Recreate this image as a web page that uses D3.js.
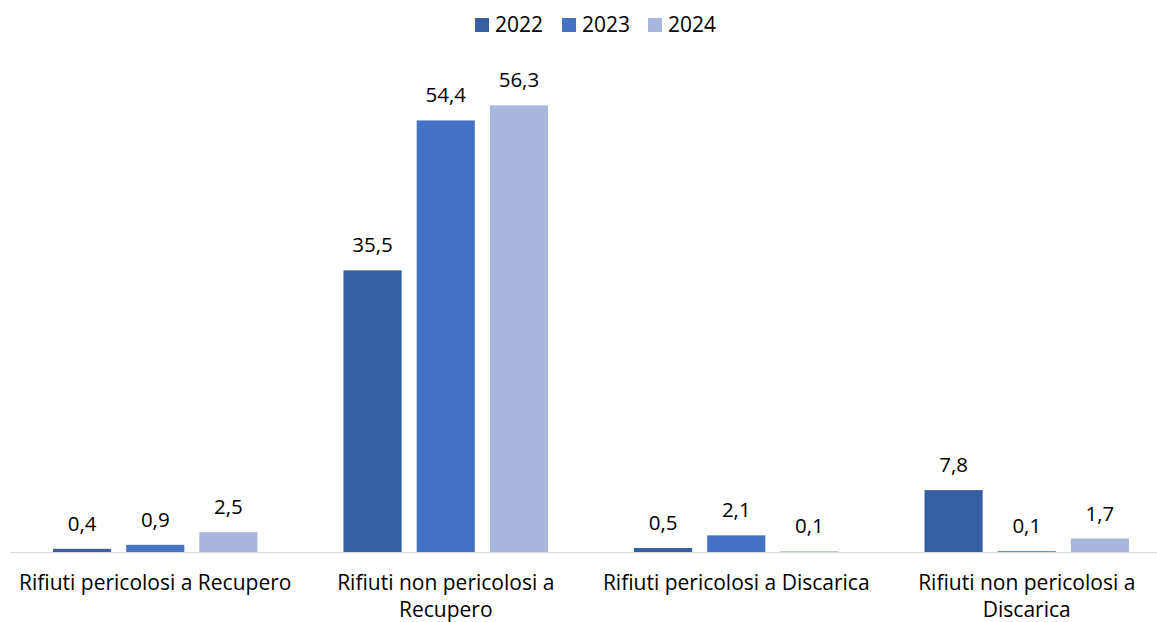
<!DOCTYPE html>
<html><head><meta charset="utf-8">
<script src="https://cdn.jsdelivr.net/npm/d3@7"></script>
<style>body{margin:0;background:#fff}svg{display:block}text{font-family:"Open Sans",sans-serif;fill:#000}</style>
</head><body><svg id="c" width="1157" height="622"></svg>
<script>
const categories = ["Rifiuti pericolosi a Recupero","Rifiuti non pericolosi a Recupero","Rifiuti pericolosi a Discarica","Rifiuti non pericolosi a Discarica"];
const years = ["2022","2023","2024"];
const v2022 = [0.4, 35.5, 0.5, 7.8];
const v2023 = [0.9, 54.4, 2.1, 0.1];
const v2024 = [2.5, 56.3, 0.1, 1.7];
const colors = ["#365EA0","#4472C4","#A9B7DC"];

const series = [v2022, v2023, v2024];
const svg = d3.select("#c");
const x0 = d3.scaleBand().domain(categories).range([10, 1172]).paddingInner(0).paddingOuter(0);
const x1 = d3.scaleBand().domain(years).range([43, x0.bandwidth()-43]).paddingInner(15/73).paddingOuter(0);
const y = d3.scaleLinear().domain([0, 60]).range([552, 76]);
const fmt = v => d3.format(".1f")(v).replace(".", ",");

const g = svg.append("g");
categories.forEach((c, ci) => {
  const cg = g.append("g").attr("transform", `translate(${x0(c)},0)`);
  years.forEach((yr, si) => {
    const v = series[si][ci];
    cg.append("rect").attr("x", x1(yr)).attr("width", x1.bandwidth())
      .attr("y", y(v)).attr("height", y(0) - y(v)).attr("fill", colors[si]);
    cg.append("text").attr("x", x1(yr) + x1.bandwidth()/2).attr("y", y(v) - 18)
      .attr("text-anchor", "middle").attr("font-size", 20.5).text(fmt(v));
  });
});
svg.append("line").attr("x1", 10).attr("x2", 1157).attr("y1", y(0)+0.5).attr("y2", y(0)+0.5)
  .attr("stroke", "#D9D9D9").attr("stroke-width", 1);

// category labels with wrapping
categories.forEach(c => {
  const cx = x0(c) + x0.bandwidth()/2;
  const t = svg.append("text").attr("x", cx).attr("y", 590).attr("text-anchor", "middle").attr("font-size", 21);
  const words = c.split(" ");
  let line = [], lineNo = 0;
  let ts = t.append("tspan").attr("x", cx).attr("y", 590);
  words.forEach(w => {
    line.push(w);
    ts.text(line.join(" "));
    if (ts.node().getComputedTextLength() > 285 && line.length > 1) {
      line.pop(); ts.text(line.join(" "));
      line = [w]; lineNo++;
      ts = t.append("tspan").attr("x", cx).attr("y", 590 + lineNo*27).text(w);
    }
  });
});

// legend
const leg = svg.append("g");
const legX = [475, 562, 648];
years.forEach((yr, i) => {
  leg.append("rect").attr("x", legX[i]).attr("y", 18).attr("width", 14).attr("height", 14).attr("fill", colors[i]);
  leg.append("text").attr("x", legX[i] + 20).attr("y", 32).attr("font-size", 21).text(yr);
});
</script></body></html>
